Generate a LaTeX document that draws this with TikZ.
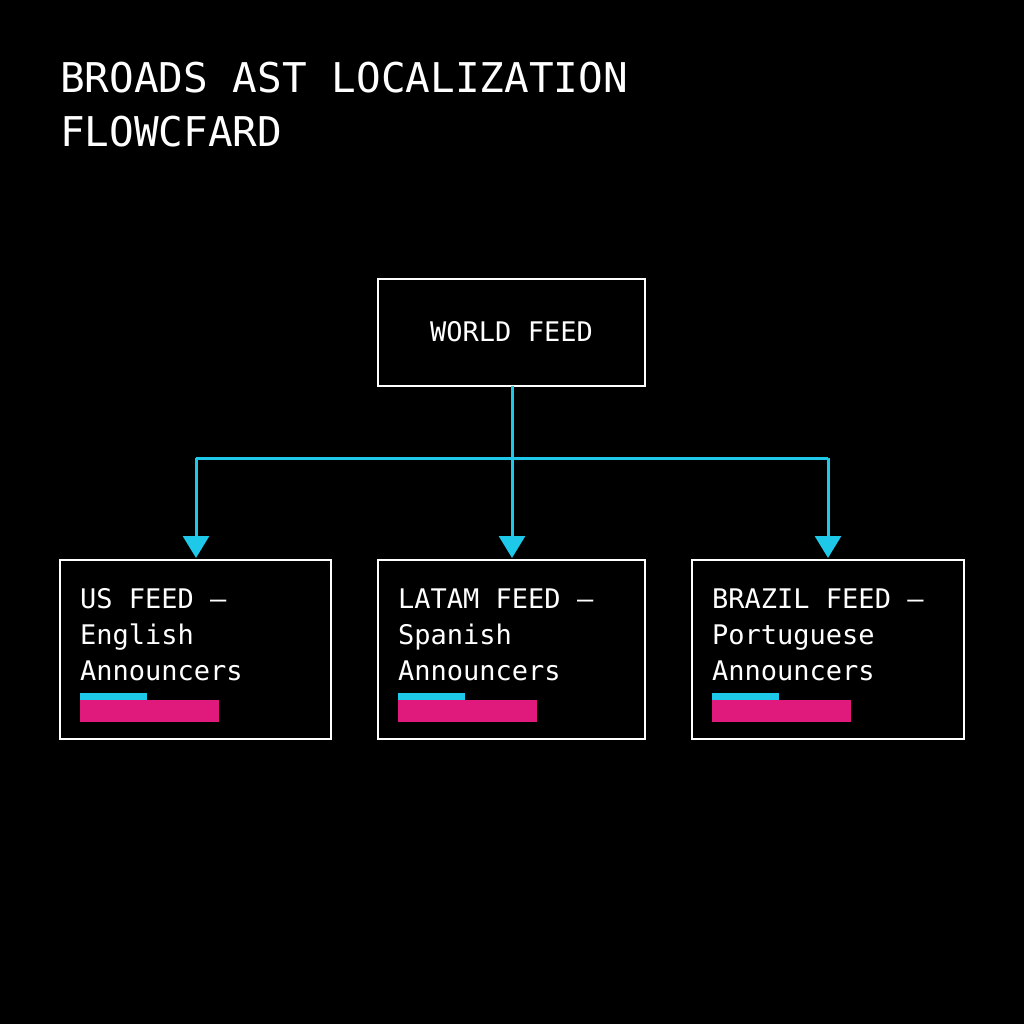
\documentclass[tikz,border=0pt]{standalone}
\usepackage{fontspec}
\setmonofont{DejaVu Sans Mono}
\usetikzlibrary{arrows.meta}
\definecolor{cy}{HTML}{1EC8E8}
\definecolor{mg}{HTML}{E0197D}
\begin{document}
\begin{tikzpicture}[x=1pt,y=-1pt,
  box/.style={draw=white,line width=2pt},
  lbl/.style={text=white,font=\ttfamily\fontsize{27}{36}\selectfont,anchor=base west,inner sep=0pt},
  conn/.style={draw=cy,line width=3pt,-{Triangle[width=26pt,length=22pt]}}]
\fill[black] (0,0) rectangle (1024,1024);
\useasboundingbox (0,0) rectangle (1024,1024);
\node[text=white,font=\ttfamily\fontsize{41}{50}\selectfont,anchor=base west,inner sep=0pt] (t1) at (60,93) {BROADS AST LOCALIZATION};
\node[text=white,font=\ttfamily\fontsize{41}{50}\selectfont,anchor=base west,inner sep=0pt] (t2) at (60,147) {FLOWCFARD};
\draw[box] (378,279) rectangle (645,386);
\node[text=white,font=\ttfamily\fontsize{27}{36}\selectfont] (w) at (511.5,332) {WORLD FEED};
\coordinate (wb) at (512,386);
\coordinate (j) at (512,458);
\coordinate (jl) at (196,458);
\coordinate (jr) at (828,458);
\coordinate (a1) at (196,558);
\coordinate (a2) at (512,558);
\coordinate (a3) at (828,558);
\draw[draw=cy,line width=3pt] (wb) -- (j) (jl) -- (jr);
\draw[conn] (jl) -- (a1);
\draw[conn] (j) -- (a2);
\draw[conn] (jr) -- (a3);
\foreach \x/\y/\a/\b [count=\i] in {60/331/US FEED —/English, 378/645/LATAM FEED —/Spanish, 692/964/BRAZIL FEED —/Portuguese}{
  \draw[box] (\x,560) rectangle (\y,739);
  \node[lbl] (l\i a) at (\x+20,608) {\a};
  \node[lbl] (l\i b) at (\x+20,644) {\b};
  \node[lbl] (l\i c) at (\x+20,680) {Announcers};
  \fill[cy] (\x+20,693) rectangle (\x+87,700);
  \fill[mg] (\x+20,700) rectangle (\x+159,722);
}
\end{tikzpicture}
\end{document}
